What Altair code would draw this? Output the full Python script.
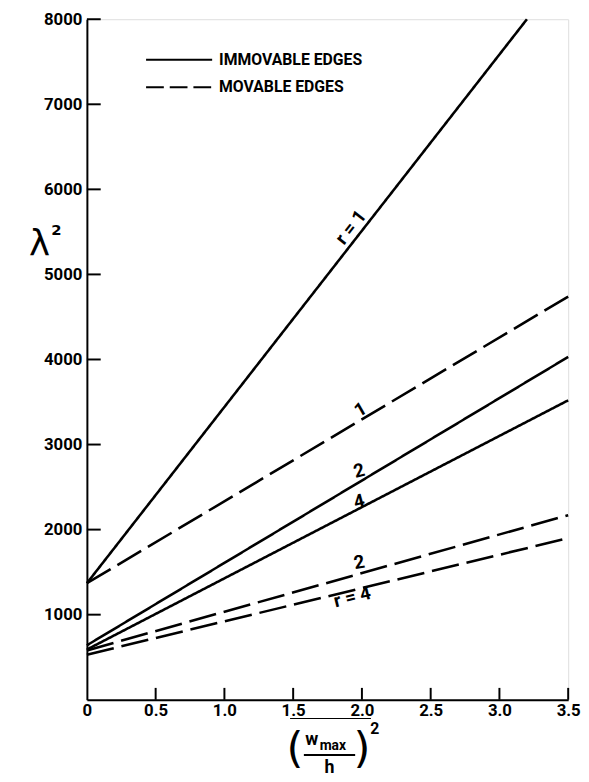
import altair as alt
import pandas as pd

# ---- data ----
series = ["r=1 immovable", "r=1 movable", "r=2 immovable", "r=4 immovable", "r=2 movable", "r=4 movable"]
edges = ["IMMOVABLE EDGES", "MOVABLE EDGES", "IMMOVABLE EDGES", "IMMOVABLE EDGES", "MOVABLE EDGES", "MOVABLE EDGES"]
x_start = [0, 0, 0, 0, 0, 0]
y_start = [1370, 1370, 640, 590, 580, 530]
x_end = [3.2, 3.5, 3.5, 3.5, 3.5, 3.5]
y_end = [8000, 4740, 4030, 3520, 2170, 1900]

label_text = ["r = 1", "1", "2", "4", "2", "r = 4"]
label_x = [1.92, 1.99, 1.98, 1.98, 1.98, 1.93]
label_y = [5553, 3409, 2690, 2330, 1612, 1206]
label_angle = [308, 330, 345, 345, 350, 346]

x_ticks = [0.5, 1.0, 1.5, 2.0, 2.5, 3.0, 3.5]
y_ticks = [1000, 2000, 3000, 4000, 5000, 6000, 7000, 8000]

FONT = "Roboto, Liberation Sans, sans-serif"

rows = []
for s, e, x0, y0, x1, y1 in zip(series, edges, x_start, y_start, x_end, y_end):
    rows.append({"series": s, "edges": e, "x": x0, "y": y0})
    rows.append({"series": s, "edges": e, "x": x1, "y": y1})
lines_df = pd.DataFrame(rows)
labels_df = pd.DataFrame({"text": label_text, "x": label_x, "y": label_y, "angle": label_angle})
xt_df = pd.DataFrame({"v": x_ticks})
yt_df = pd.DataFrame({"v": y_ticks})
one = pd.DataFrame({"a": [0]})

xscale = alt.Scale(domain=[0, 3.5], nice=False, zero=False)
yscale = alt.Scale(domain=[0, 8000], nice=False)

lines = alt.Chart(lines_df).mark_line(color="black", strokeWidth=2.6).encode(
    x=alt.X("x:Q", scale=xscale,
            axis=alt.Axis(values=[0, 0.5, 1.0, 1.5, 2.0, 2.5, 3.0, 3.5],
                          labelExpr="datum.value == 0 ? '0' : format(datum.value, '.1f')",
                          title=None, grid=False, ticks=False, domainColor="black",
                          domainWidth=2, labelFont=FONT, labelFontSize=17,
                          labelFontWeight="bold", labelColor="black", labelPadding=3,
                          labelFlush=False)),
    y=alt.Y("y:Q", scale=yscale,
            axis=alt.Axis(values=y_ticks, format="d", title=None, grid=False, ticks=False,
                          domainColor="black", domainWidth=2, labelFont=FONT,
                          labelFontSize=17, labelFontWeight="bold", labelColor="black",
                          labelPadding=5)),
    detail="series:N",
    strokeDash=alt.StrokeDash("edges:N",
                              scale=alt.Scale(domain=["IMMOVABLE EDGES", "MOVABLE EDGES"],
                                              range=[[1, 0], [28, 8]]),
                              legend=None),
)

xticks = alt.Chart(xt_df).mark_rule(color="black", strokeWidth=2).encode(
    x=alt.X("v:Q", scale=xscale), y=alt.value(690), y2=alt.value(678))
yticks = alt.Chart(yt_df).mark_rule(color="black", strokeWidth=2).encode(
    y=alt.Y("v:Q", scale=yscale), x=alt.value(0), x2=alt.value(14))

labels = alt.Chart(labels_df).mark_text(font=FONT, fontSize=19, fontWeight="bold",
                                         color="black").encode(
    x=alt.X("x:Q", scale=xscale), y=alt.Y("y:Q", scale=yscale), text="text:N",
    angle=alt.Angle("angle:Q", scale=None))

# legend
leg_solid = alt.Chart(one).mark_rule(color="black", strokeWidth=2).encode(
    x=alt.value(60), x2=alt.value(127), y=alt.value(41))
leg_dash = alt.Chart(one).mark_rule(color="black", strokeWidth=2, strokeDash=[18, 6]).encode(
    x=alt.value(60), x2=alt.value(127), y=alt.value(69))
leg_t1 = alt.Chart(one).mark_text(font=FONT, fontSize=16, fontWeight="bold", align="left",
                                  baseline="middle", color="black", text="IMMOVABLE  EDGES").encode(
    x=alt.value(134), y=alt.value(41))
leg_t2 = alt.Chart(one).mark_text(font=FONT, fontSize=16, fontWeight="bold", align="left",
                                  baseline="middle", color="black", text="MOVABLE  EDGES").encode(
    x=alt.value(134), y=alt.value(69))

# y axis title  lambda^2
lam = alt.Chart(one).mark_text(font="DejaVu Sans", fontSize=36, color="black", text="λ").encode(
    x=alt.value(-48), y=alt.value(228))
lam2 = alt.Chart(one).mark_text(font="DejaVu Sans", fontSize=15, fontWeight="bold",
                                color="black", text="2").encode(
    x=alt.value(-31), y=alt.value(214))

# x axis title  (w_max / h)^2
def txt(t, x, y, size, font=FONT, weight="bold", align="center"):
    return alt.Chart(one).mark_text(font=font, fontSize=size, fontWeight=weight, color="black",
                                    text=t, align=align, baseline="middle").encode(
        x=alt.value(x), y=alt.value(y))

lpar = txt("(", 211, 741, 44, font="DejaVu Sans", weight="normal")
rpar = txt(")", 279, 741, 44, font="DejaVu Sans", weight="normal")
w_t = txt("w", 228, 731, 18)
max_t = txt("max", 236, 737, 14, align="left")
h_t = txt("h", 246, 759, 18)
sq_t = txt("2", 292, 720, 16)
bar = alt.Chart(one).mark_rule(color="black", strokeWidth=2).encode(
    x=alt.value(220), x2=alt.value(272), y=alt.value(746))
overline = alt.Chart(one).mark_rule(color="black", strokeWidth=1.2).encode(
    x=alt.value(206), x2=alt.value(288), y=alt.value(709))

chart = alt.layer(
    lines, xticks, yticks, labels, leg_solid, leg_dash, leg_t1, leg_t2,
    lam, lam2, lpar, rpar, w_t, max_t, h_t, sq_t, bar, overline
).properties(
    width=488, height=690,
    autosize=alt.AutoSizeParams(type="none"),
    padding={"left": 80, "top": 6, "right": 13, "bottom": 76},
).configure_view(stroke=None).configure(background="white")

chart.save("out.html", embed_options={"renderer": "svg", "actions": False})
